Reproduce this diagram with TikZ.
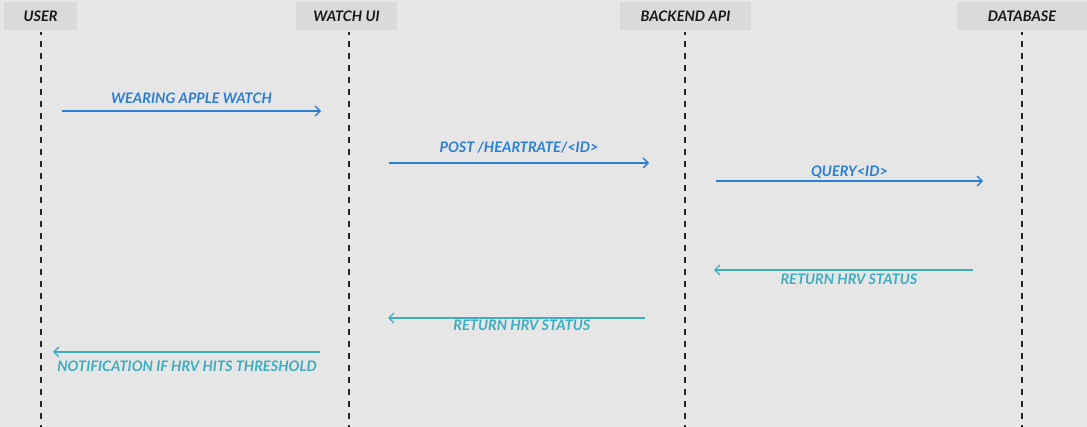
\documentclass[tikz,border=0pt]{standalone}
\usepackage{fontspec}
\setmainfont{Lato}
\usetikzlibrary{arrows.meta}
\definecolor{bg}{HTML}{E6E6E6}
\definecolor{hdr}{HTML}{DADADA}
\definecolor{callc}{HTML}{2A7FD4}
\definecolor{retc}{HTML}{3DAEC0}
\tikzset{
  lbl/.style={font=\fontsize{14.5}{16}\selectfont\bfseries\itshape, anchor=base, inner sep=0pt},
  hdrbox/.style={fill=hdr, inner sep=0pt, font=\fontsize{14.5}{16}\selectfont\bfseries\itshape, text=black!90},
  life/.style={draw=black!85, dash pattern=on 6pt off 6pt, dash phase=3pt, line width=1.4pt},
  callarr/.style={draw=callc, line width=1.3pt, -{Straight Barb[length=5pt,width=10pt]}},
  retarr/.style={draw=retc, line width=1.3pt, -{Straight Barb[length=5pt,width=10pt]}},
}
\begin{document}
\begin{tikzpicture}[x=1pt,y=-1pt]
\useasboundingbox[fill=bg] (0,0) rectangle (1087,427);
% headers
\node[hdrbox, minimum width=73pt, minimum height=28pt] (user) at (40.5,16) {USER};
\node[hdrbox, minimum width=101pt, minimum height=28pt] (watch) at (346.5,16) {WATCH UI};
\node[hdrbox, minimum width=131pt, minimum height=28pt] (api) at (685.5,16) {BACKEND API};
\node[hdrbox, minimum width=130pt, minimum height=28pt] (db) at (1022,16) {DATABASE};
% lifelines
\coordinate (ue) at (41,427);
\coordinate (we) at (349,427);
\coordinate (ae) at (685,427);
\coordinate (de) at (1022,427);
\coordinate (us) at (41,32);
\coordinate (ws) at (349,32);
\coordinate (as) at (685,32);
\coordinate (ds) at (1022,32);
\draw[life] (us) -- (ue);
\draw[life] (ws) -- (we);
\draw[life] (as) -- (ae);
\draw[life] (ds) -- (de);
% messages
\coordinate (m1a) at (62,111); \coordinate (m1b) at (321,111);
\draw[callarr] (m1a) -- (m1b) node[pos=0.5, lbl, yshift=7pt, text=callc] {WEARING APPLE WATCH};
\coordinate (m2a) at (389,163); \coordinate (m2b) at (649,163);
\draw[callarr] (m2a) -- (m2b) node[pos=0.5, lbl, yshift=10pt, text=callc] {POST /HEARTRATE/<ID>};
\coordinate (m3a) at (716,181); \coordinate (m3b) at (983,181);
\draw[callarr] (m3a) -- (m3b) node[pos=0.5, lbl, yshift=4pt, text=callc] {QUERY<ID>};
\coordinate (m4a) at (973,270); \coordinate (m4b) at (714,270);
\draw[retarr] (m4a) -- (m4b) node[pos=0.479, lbl, yshift=-15pt, text=retc] {RETURN HRV STATUS};
\coordinate (m5a) at (645,318); \coordinate (m5b) at (388,318);
\draw[retarr] (m5a) -- (m5b) node[pos=0.479, lbl, yshift=-13pt, text=retc] {RETURN HRV STATUS};
\coordinate (m6a) at (320,352); \coordinate (m6b) at (53,352);
\draw[retarr] (m6a) -- (m6b) node[pos=0.498, lbl, yshift=-20pt, text=retc] {NOTIFICATION IF HRV HITS THRESHOLD};
\end{tikzpicture}
\end{document}
